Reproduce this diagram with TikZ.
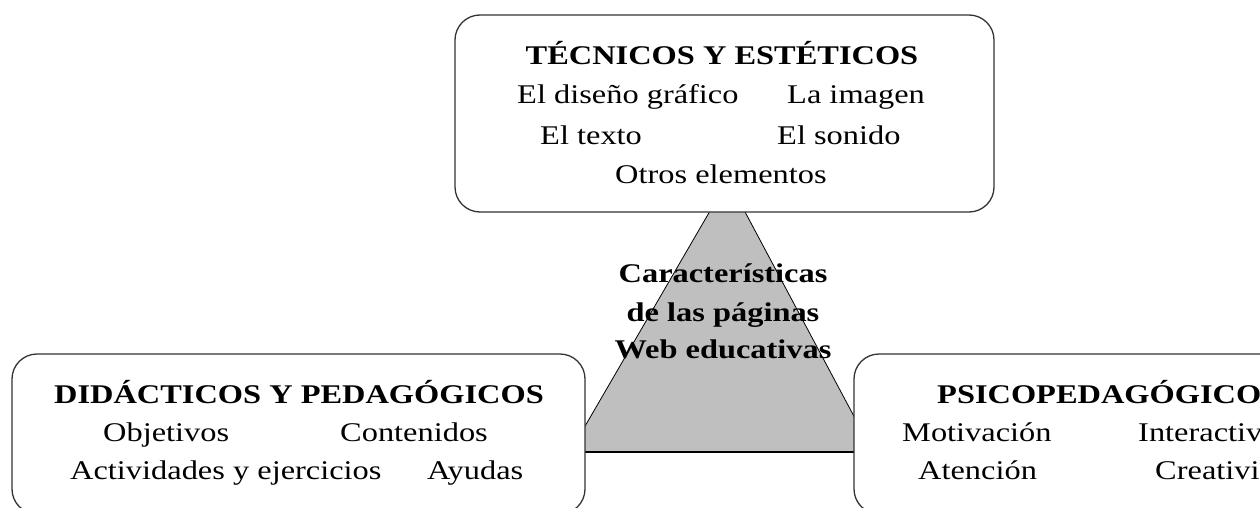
\documentclass[tikz,border=0pt]{standalone}
\usepackage{fontspec}
\setmainfont[FakeStretch=1.2]{Liberation Serif}
\usepackage{tikz}

\begin{document}
\begin{tikzpicture}[x=1pt,y=-1pt,
    box/.style={draw=black!80, fill=white, line width=1.3pt, rounded corners=25pt, inner sep=0pt},
    txt/.style={anchor=base west, inner sep=0pt, font=\fontsize{27}{32}\selectfont},
    titulo/.style={anchor=base, inner sep=0pt, font=\fontsize{27}{32}\selectfont\bfseries}
    ]
    \path[use as bounding box] (0,0) rectangle (1260,508);
    \clip (0,0) rectangle (1260,508);

    % triangulo central
    \coordinate (apex) at (728,180);
    \coordinate (bl) at (570,452);
    \coordinate (br) at (873,452);
    \fill [black!25] (apex) -- (bl) -- (br) -- cycle;
    \draw [line width=0.8pt] (apex) -- (bl);
    \draw [line width=0.8pt] (apex) -- (br);
    \draw [line width=1.3pt] (bl) -- (br);

    \node [titulo] (c1) at (723,282) {Características};
    \node [titulo] (c2) at (723,321) {de las páginas};
    \node [titulo] (c3) at (723,358) {Web educativas};

    % cajas
    \node [box, minimum width=539pt, minimum height=197pt] (tec) at (724.5,113.5) {};
    \node [box, minimum width=573pt, minimum height=160pt] (did) at (298.5,434) {};
    \node [box, minimum width=570pt, minimum height=160pt] (psi) at (1139,434) {};

    \node [titulo] (t0) at (722,65) {TÉCNICOS Y ESTÉTICOS};
    \node [txt] (t1) at (517,104) {El diseño gráfico};
    \node [txt] (t2) at (787,104) {La imagen};
    \node [txt] (t3) at (540,144) {El texto};
    \node [txt] (t4) at (777,144) {El sonido};
    \node [txt] (t5) at (615,183) {Otros elementos};

    \node [titulo] (d0) at (299,403) {DIDÁCTICOS Y PEDAGÓGICOS};
    \node [txt] (d1) at (103,441) {Objetivos};
    \node [txt] (d2) at (340,441) {Contenidos};
    \node [txt] (d3) at (70,479) {Actividades y ejercicios};
    \node [txt] (d4) at (427,479) {Ayudas};

    \node [titulo, anchor=base west] (p0) at (937,403) {PSICOPEDAGÓGICOS};
    \node [txt] (p1) at (902,441) {Motivación};
    \node [txt] (p2) at (1138,441) {Interactividad};
    \node [txt] (p3) at (918,479) {Atención};
    \node [txt] (p4) at (1155,479) {Creatividad};

\end{tikzpicture}
\end{document}
